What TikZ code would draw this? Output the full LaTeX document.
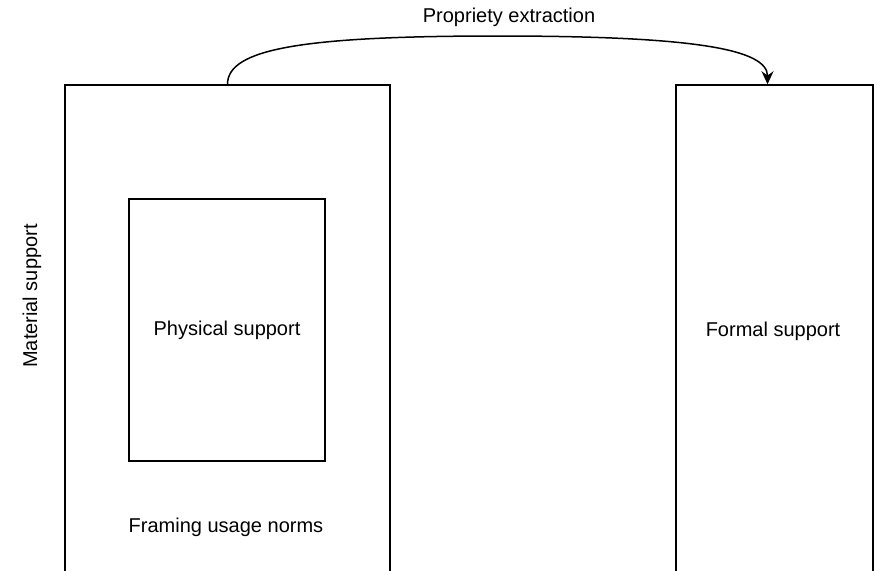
\documentclass[tikz,border=0pt]{standalone}
\usepackage{fontspec}
\setmainfont{Liberation Sans}
\usetikzlibrary{arrows.meta}
\begin{document}
\begin{tikzpicture}[x=1pt,y=-1pt,line width=1.5pt,
    every node/.style={font=\fontsize{20}{24}\selectfont}]
                \clip (0,0) rectangle (877,570);
                %% supports
                \node[draw,minimum width=325pt,minimum height=535pt,inner sep=0pt] (material) at (227.5,352.5) {};
                \node[draw,minimum width=196pt,minimum height=262pt,inner sep=0pt] (physical) at (227,330) {Physical support};
                \node[draw,minimum width=197pt,minimum height=535pt,inner sep=0pt] (formal) at (774.5,352.5) {};
                %% labels
                \node (formallabel) at (773,331) {Formal support};
                \node[rotate=90] (materiallabel) at (32,296) {Material support};
                \node (norms) at (226,527) {Framing usage norms};
                %% extraction
                \coordinate (peak) at (497.5,36);
                \coordinate (tip) at ([xshift=-7pt]formal.north);
                \draw[-{Stealth[length=13pt,width=12pt]}] (material.north) .. controls +(0,-35) and +(-197,0) .. (peak) .. controls +(197,0) and +(0,-35) .. (tip);
                \node (extraction) at (509,17) {Propriety extraction};
            \end{tikzpicture}
\end{document}
